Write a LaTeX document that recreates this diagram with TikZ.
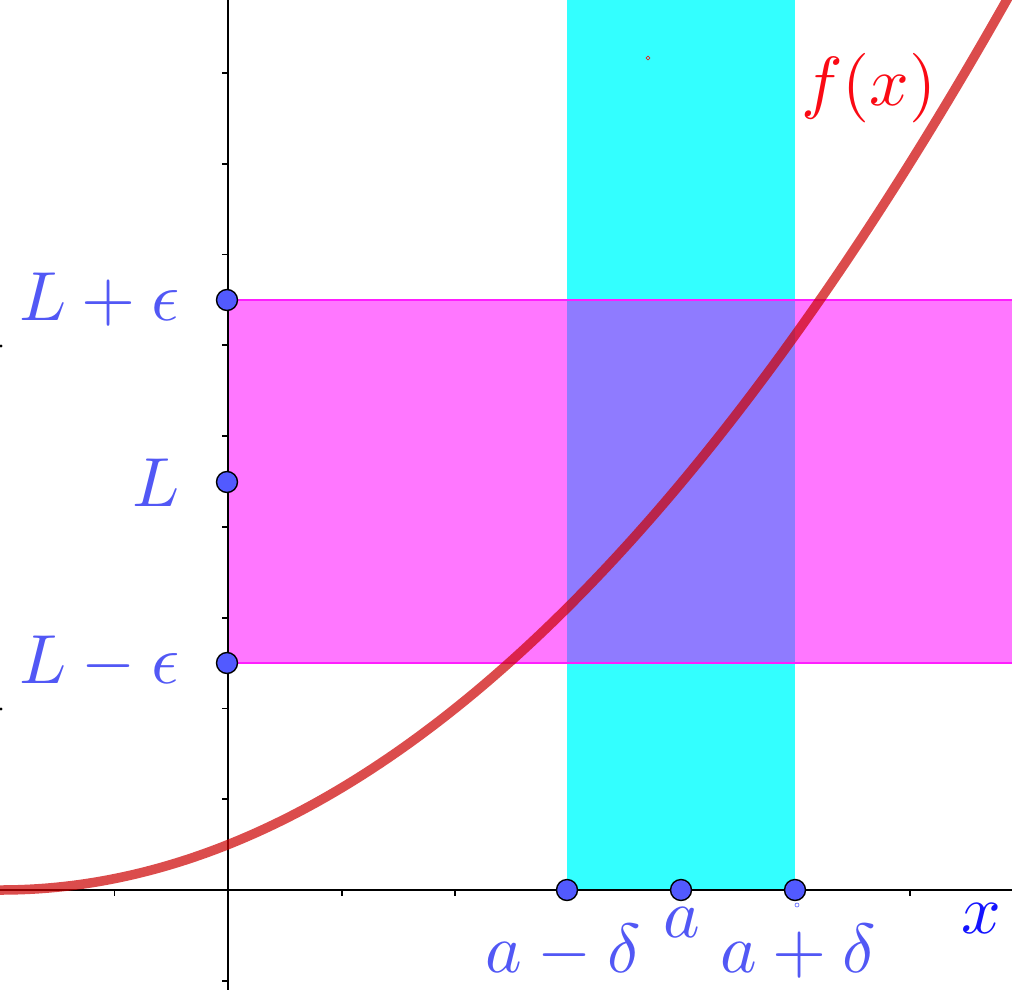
\documentclass[tikz,border=0pt]{standalone}
\definecolor{cyanband}{RGB}{51,255,255}
\definecolor{magband}{RGB}{255,119,255}
\definecolor{overlap}{RGB}{143,123,255}
\definecolor{magline}{RGB}{255,30,255}
\definecolor{ptblue}{RGB}{82,90,255}
\definecolor{lblblue}{RGB}{82,88,245}
\definecolor{axblue}{RGB}{20,20,255}
\definecolor{curvered}{RGB}{204,0,0}
\definecolor{fxred}{RGB}{250,10,20}
\tikzset{
  axisline/.style={black, line width=1.8pt},
  tickmark/.style={black, line width=1.8pt},
  ptnode/.style={circle, draw=black, line width=1.4pt, fill=ptblue, minimum size=21pt, inner sep=0pt},
  biglbl/.style={font=\normalsize, scale=6.95, text=lblblue, inner sep=0pt},
  curvestyle/.style={curvered, opacity=0.7, line width=9.5pt}
}
\begin{document}
\begin{tikzpicture}[x=1pt,y=-1pt]
\useasboundingbox (0,0) rectangle (1012,990);
\begin{scope}
\clip (0,0) rectangle (1012,990);
% bands
\fill[cyanband] (567,0) rectangle (795,891);
\fill[magband] (228,300) rectangle (1012,663);
\fill[overlap] (567,300) rectangle (795,663);
\draw[magline, line width=1.6pt] (228,300) rectangle (1020,663);
% axes
\draw[axisline] (0,890) -- (1012,890);
\draw[axisline] (228,0) -- (228,990);
\foreach \t in {-1,1,2,3,4,5,6}
  \draw[tickmark] ({228+113.6*\t},890) -- ({228+113.6*\t},896);
\foreach \t in {-1,1,2,3,4,5,6,7,8,9}
  \draw[tickmark] (222,{890-90.8*\t}) -- (228,{890-90.8*\t});
% curve
\draw[curvestyle] plot[domain=-2.2:6.95, samples=120, smooth] ({228+113.6*\x},{890-90.8*(\x+2)*(\x+2)/8});
% small artefacts
\fill[black] (1,346) circle (1.6pt);
\fill[black] (1,709) circle (1.6pt);
\draw[red, line width=0.6pt] (648,56) -- (650,58) -- (648,60) -- (646,58) -- cycle;
\draw[ptblue, line width=0.6pt] (797,905) circle (2pt);
\end{scope}
% points
\node[ptnode] (pLe) at (227,300) {};
\node[ptnode] (pL) at (227,482) {};
\node[ptnode] (pLm) at (227,663) {};
\node[ptnode] (pam) at (567,890) {};
\node[ptnode] (pa) at (681,890) {};
\node[ptnode] (pap) at (795,890) {};
% labels
\node[biglbl, anchor=base east] (lLe) at (181,320) {$L+\epsilon$};
\node[biglbl, anchor=base east] (lL) at (181,506) {$L$};
\node[biglbl, anchor=base east] (lLm) at (181,683) {$L-\epsilon$};
\node[biglbl, anchor=base] (lam) at (563,972) {$a-\delta$};
\node[biglbl, anchor=base] (la) at (682,937) {$a$};
\node[biglbl, anchor=base] (lap) at (798,972) {$a+\delta$};
\node[biglbl, anchor=base, text=axblue] (lx) at (981,933) {$x$};
\node[biglbl, anchor=base, text=fxred] (lfx) at (869,105) {$f(x)$};
\end{tikzpicture}
\end{document}
